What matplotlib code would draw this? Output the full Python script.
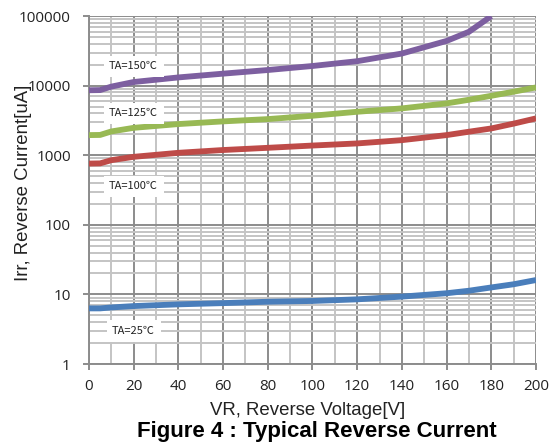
import matplotlib
matplotlib.use("Agg")
import matplotlib.pyplot as plt
from matplotlib.ticker import FixedLocator, LogLocator, NullFormatter

# Reverse voltage [V]
vr = [0, 5, 10, 20, 40, 60, 80, 100, 120, 140, 160, 170, 180, 190, 200]
vr_150 = [0, 5, 10, 20, 40, 60, 80, 100, 120, 140, 160, 170, 180]

# Reverse current [uA] for each ambient temperature
irr_25 = [6.3, 6.3, 6.5, 6.8, 7.2, 7.5, 7.85, 8.05, 8.5, 9.3, 10.4, 11.3, 12.6, 14.0, 16.1]
irr_100 = [760, 765, 850, 950, 1085, 1190, 1280, 1380, 1480, 1650, 1950, 2180, 2430, 2850, 3390]
irr_125 = [1950, 1960, 2200, 2480, 2810, 3070, 3310, 3700, 4220, 4720, 5570, 6280, 7160, 8200, 9450]
irr_150 = [8600, 8650, 9700, 11300, 13150, 14900, 16800, 19200, 22500, 29000, 44000, 59500, 100000]

series = [
    (vr, irr_25, "#4a7ebb", "TA=25℃", 2.98),
    (vr, irr_100, "#be4b48", "TA=100℃", 360),
    (vr, irr_125, "#98b954", "TA=125℃", 4040),
    (vr_150, irr_150, "#7d5fa0", "TA=150℃", 19100),
]

fig = plt.figure(figsize=(5.56, 4.48), dpi=100)
ax = fig.add_axes([0.160, 0.1875, 0.804, 0.7765])
ax.set_yscale("log")
ax.set_xlim(0, 200)
ax.set_ylim(1, 100000)

ax.xaxis.set_major_locator(FixedLocator(range(0, 201, 20)))
ax.xaxis.set_minor_locator(FixedLocator(range(10, 200, 20)))
ax.yaxis.set_minor_locator(LogLocator(base=10, subs=range(2, 10), numticks=20))
ax.yaxis.set_minor_formatter(NullFormatter())
ax.set_yticks([1, 10, 100, 1000, 10000, 100000])
ax.set_yticklabels(["1", "10", "100", "1000", "10000", "100000"])

ax.grid(which="major", color="#8c8c8c", linewidth=1.4)
ax.grid(which="minor", color="#c4c4c4", linewidth=1.4)
ax.set_axisbelow(True)
for side in ("top", "right"):
    ax.spines[side].set_visible(False)
for side in ("left", "bottom"):
    ax.spines[side].set_color("#8c8c8c")
    ax.spines[side].set_linewidth(1.4)

ax.tick_params(which="major", length=4, width=1.4, color="#8c8c8c",
               labelsize=11)
ax.tick_params(axis="x", which="major", pad=7)
ax.tick_params(axis="y", which="major", pad=9)
ax.tick_params(which="minor", length=0)
for lab in ax.get_xticklabels() + ax.get_yticklabels():
    lab.set_fontfamily("Open Sans")
    lab.set_color("#222222")

for x, y, color, label, ly in series:
    ax.plot(x, y, color=color, linewidth=4.2, solid_capstyle="butt", zorder=3)
    ax.text(20, ly, label, fontsize=8, family=["Noto Sans CJK JP", "DejaVu Sans"],
            color="#222222", ha="center", va="center", zorder=4,
            bbox=dict(boxstyle="square,pad=0.5", facecolor="white",
                      edgecolor="none"))

ax.set_xlabel("VR, Reverse Voltage[V]", family="Liberation Sans",
              fontsize=13.4, color="#222222")
ax.xaxis.set_label_coords(0.49, -0.108)
ax.set_ylabel("Irr, Reverse Current[uA]", family="Liberation Sans",
              fontsize=13.4, color="#222222")
ax.yaxis.set_label_coords(-0.128, 0.52)
fig.text(0.57, 0.036, "Figure 4 : Typical Reverse Current",
         family="Liberation Sans", fontweight="bold", fontsize=16,
         ha="center", va="center")

fig.savefig("out.png", dpi=100)
